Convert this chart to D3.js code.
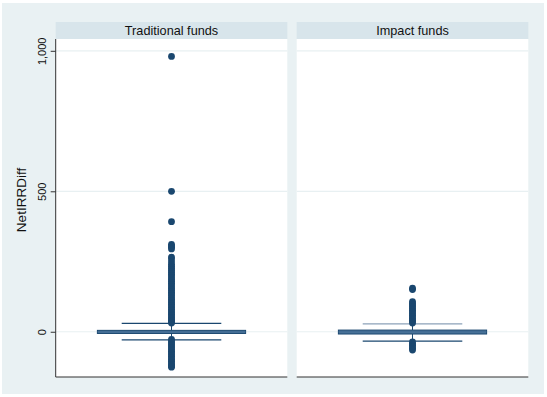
<!DOCTYPE html>
<html>
<head>
<meta charset="utf-8">
<script src="https://cdn.jsdelivr.net/npm/d3@7"></script>
<style>
  html, body { margin: 0; padding: 0; background: #ffffff; }
  svg { display: block; }
  text { font-family: "Liberation Sans", Arial, Helvetica, sans-serif; }
</style>
</head>
<body>
<svg id="chart" width="547" height="397"></svg>
<script>
// Panels (one box plot per fund group)
const groups = ["Traditional funds", "Impact funds"];

// Box summary per group: lower adjacent, q1, median, q3, upper adjacent
const lowerAdj = [-29, -33];
const q1 = [-6, -8];
const median = [0, 0];
const q3 = [5, 6];
const upperAdj = [30, 28];

// Outside values per group
const outliersTraditional = [
  980, 500, 392, 311, 306, 301, 295, 266, 259, 249, 240, 233, 226, 219,
  212, 205, 199, 192, 186, 180, 173, 167, 160, 154, 148, 141, 135, 129, 122, 116,
  110, 104, 98, 92, 86, 80, 74, 68, 62, 56, 50, 45, 40, 35, 31,
  -27, -33, -39, -45, -51, -57, -63, -69, -75, -81, -87, -93, -99, -105, -111,
  -117, -122, -126
];
const outliersImpact = [
  155, 150, 107, 101, 95, 89, 83, 77, 71, 65, 59, 53, 47, 41, 36, 31,
  -36, -42, -48, -54, -60, -65
];
const outliers = [outliersTraditional, outliersImpact];

// Y axis ticks
const yTicks = [0, 500, 1000];
const yLabel = "NetIRRDiff";

const svg = d3.select("#chart");
const W = 547, H = 397;

// Graph background
svg.append("rect").attr("x", 2).attr("y", 3).attr("width", W - 5).attr("height", H - 6)
  .attr("fill", "#e9f1f3");

const plotTop = 39, plotBottom = 377, stripTop = 22;
const x = d3.scaleBand().domain(groups).range([55.7, 528.3]).paddingInner(0.039).paddingOuter(0);
const y = d3.scaleLinear().domain([-161, 1042]).range([plotBottom, plotTop]);

const navy = "#1a476f";

// Plot regions and strip headers
groups.forEach(g => {
  const x0 = x(g), bw = x.bandwidth();
  svg.append("rect").attr("x", x0).attr("y", plotTop).attr("width", bw)
    .attr("height", plotBottom - plotTop).attr("fill", "#ffffff");
  svg.append("rect").attr("x", x0).attr("y", stripTop).attr("width", bw)
    .attr("height", plotTop - stripTop).attr("fill", "#d8e5eb");
  svg.append("text").attr("x", x0 + bw / 2).attr("y", 35)
    .attr("text-anchor", "middle").attr("font-size", 12.7).attr("fill", "#111")
    .text(g);
});

// Gridlines
groups.forEach(g => {
  svg.append("g").selectAll("line").data(yTicks).join("line")
    .attr("x1", x(g)).attr("x2", x(g) + x.bandwidth())
    .attr("y1", d => y(d)).attr("y2", d => y(d))
    .attr("stroke", "#e8f0f2").attr("stroke-width", 1.2);
});

// Y axis on the first panel, with vertical tick labels
const yAxis = d3.axisLeft(y).tickValues(yTicks).tickSize(5).tickFormat(d3.format(","));
const ya = svg.append("g").attr("transform", `translate(${x(groups[0])},0)`).call(yAxis);
ya.select(".domain").attr("d", `M0,${plotTop}V${plotBottom}`).attr("stroke", "#333");
ya.selectAll(".tick line").attr("stroke", "#333");
ya.selectAll(".tick text")
  .attr("font-size", 11).attr("fill", "#111")
  .attr("text-anchor", "middle")
  .attr("x", 0).attr("y", -10).attr("dy", null)
  .attr("transform", "rotate(-90)");

svg.append("text").attr("transform", "translate(26,200) rotate(-90)")
  .attr("text-anchor", "middle").attr("font-size", 13.5).attr("fill", "#111")
  .text(yLabel);

// Bottom axis lines
groups.forEach(g => {
  svg.append("line").attr("x1", x(g)).attr("x2", x(g) + x.bandwidth())
    .attr("y1", plotBottom).attr("y2", plotBottom)
    .attr("stroke", "#333").attr("stroke-width", 1.2);
});

// Boxes, whiskers and outside values
groups.forEach((g, i) => {
  const cx = x(g) + x.bandwidth() / 2;
  const boxW = x.bandwidth() * 0.64;
  const capW = x.bandwidth() * 0.43;
  const gg = svg.append("g");

  gg.append("line").attr("x1", cx).attr("x2", cx)
    .attr("y1", y(q3[i])).attr("y2", y(upperAdj[i])).attr("stroke", navy).attr("stroke-width", 1);
  gg.append("line").attr("x1", cx).attr("x2", cx)
    .attr("y1", y(q1[i])).attr("y2", y(lowerAdj[i])).attr("stroke", navy).attr("stroke-width", 1);
  gg.append("line").attr("x1", cx - capW / 2).attr("x2", cx + capW / 2)
    .attr("y1", y(upperAdj[i])).attr("y2", y(upperAdj[i]))
    .attr("stroke", i === 1 ? "#8ca2b9" : navy).attr("stroke-width", 1.3);
  gg.append("line").attr("x1", cx - capW / 2).attr("x2", cx + capW / 2)
    .attr("y1", y(lowerAdj[i])).attr("y2", y(lowerAdj[i]))
    .attr("stroke", navy).attr("stroke-width", 1.3);

  gg.append("rect").attr("x", cx - boxW / 2).attr("y", y(q3[i]))
    .attr("width", boxW).attr("height", y(q1[i]) - y(q3[i]))
    .attr("fill", "#4b7399").attr("stroke", navy).attr("stroke-width", 1);
  gg.append("line").attr("x1", cx - boxW / 2).attr("x2", cx + boxW / 2)
    .attr("y1", y(median[i])).attr("y2", y(median[i]))
    .attr("stroke", "#3e6890").attr("stroke-width", 0.8);

  gg.append("g").selectAll("circle").data(outliers[i]).join("circle")
    .attr("cx", cx).attr("cy", d => y(d)).attr("r", 3.4)
    .attr("fill", navy);
});
</script>
</body>
</html>
